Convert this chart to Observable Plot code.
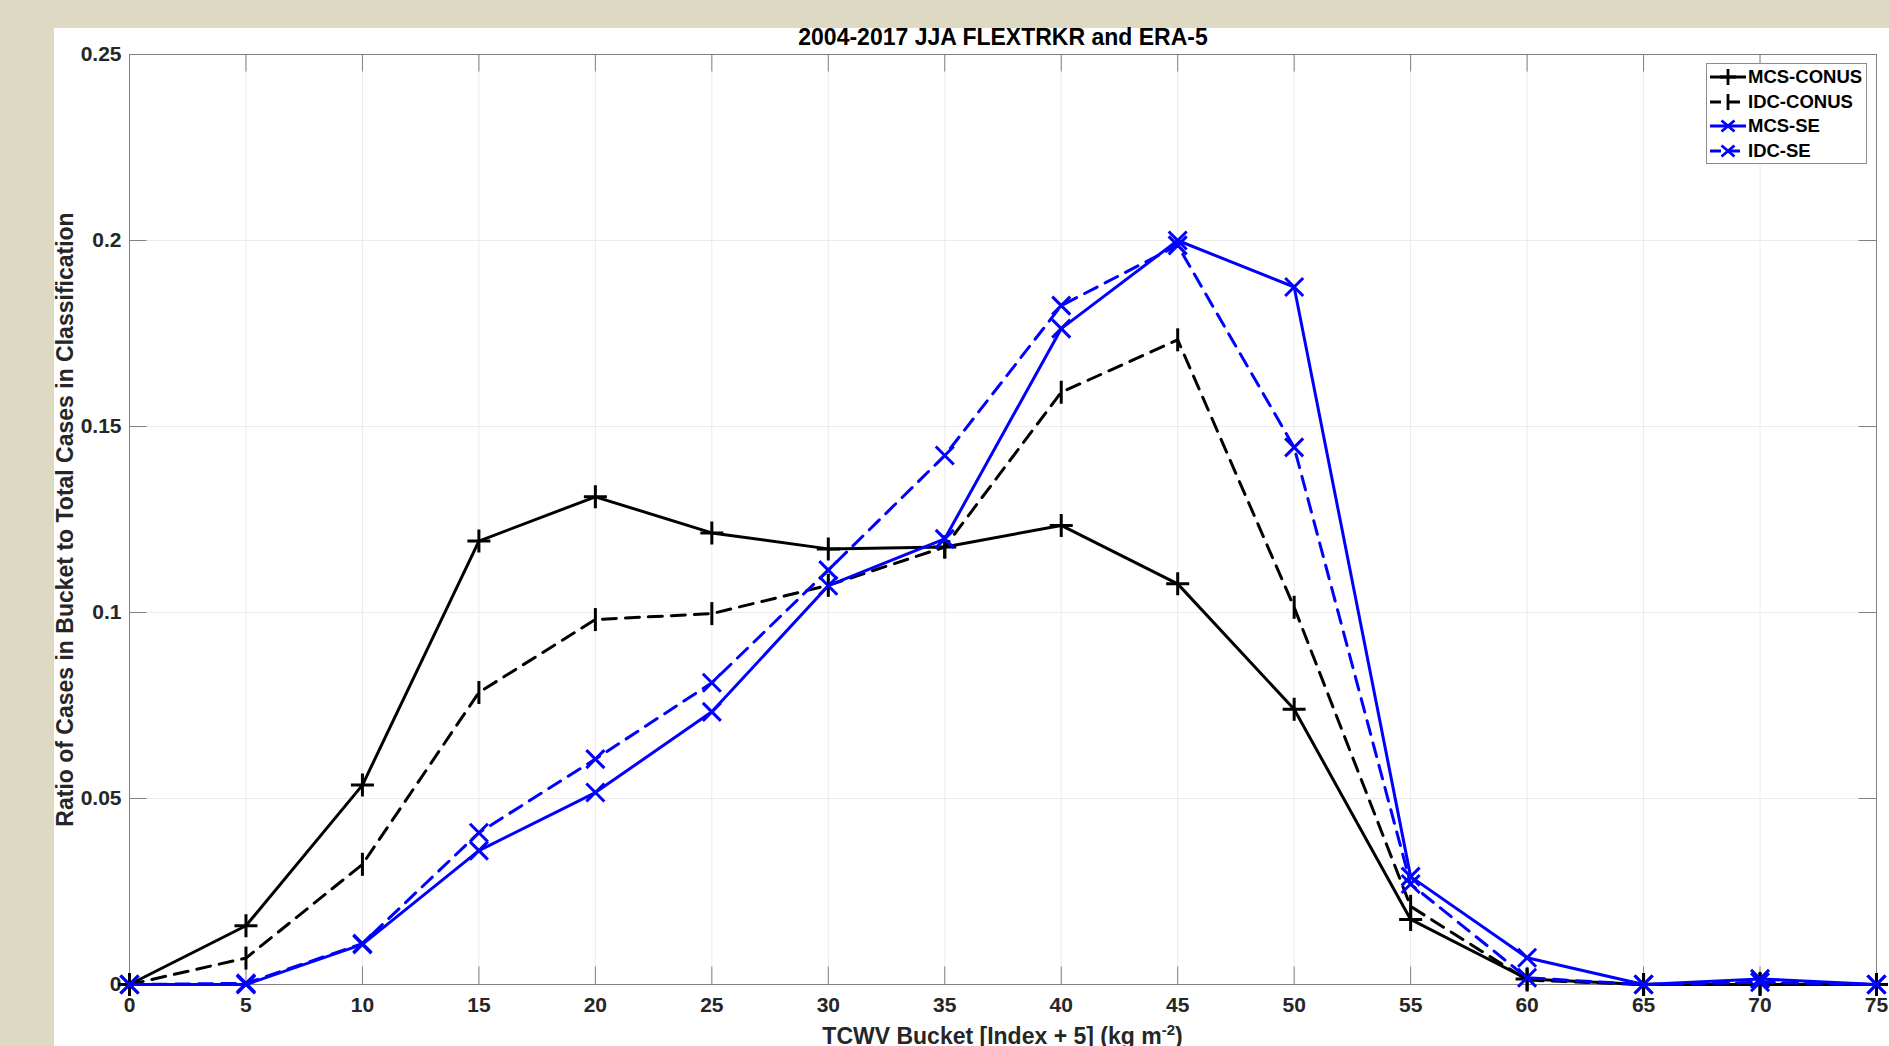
<!DOCTYPE html>
<html><head><meta charset="utf-8">
<script src="https://cdn.jsdelivr.net/npm/d3@7"></script>
<script src="https://cdn.jsdelivr.net/npm/@observablehq/plot@0.6"></script>
<style>
html,body{margin:0;padding:0}
body{width:1889px;height:1046px;overflow:hidden;position:relative;background:#DED9C3;font-family:"Liberation Sans",Arial,Helvetica,sans-serif}
#panel{position:absolute;left:54px;top:28px;right:0;bottom:0;background:#fff}
#chart{position:absolute;left:0;top:0}
#legend{position:absolute;left:1706px;top:63px;width:161px;height:101px;box-sizing:border-box;border:1px solid #8c8c8c;background:#fff;padding-top:1px}
.row{height:24.5px;display:flex;align-items:center;font-weight:bold;font-size:18.5px;color:#000;white-space:nowrap}
.row svg{flex:none}
</style></head><body>
<div id="panel"></div><div id="chart"></div><div id="legend"></div>
<script>
// ---- data ----
const buckets = [0, 5, 10, 15, 20, 25, 30, 35, 40, 45, 50, 55, 60, 65, 70, 75];
const seriesNames = ["MCS-CONUS", "IDC-CONUS", "MCS-SE", "IDC-SE"];
const mcsConus = [0, 0.0158, 0.0536, 0.1192, 0.1311, 0.1214, 0.1171, 0.1176, 0.1234, 0.1077, 0.0740, 0.0175, 0.0015, 0, 0, 0];
const idcConus = [0, 0.0071, 0.0323, 0.0785, 0.0981, 0.0997, 0.1073, 0.1176, 0.1592, 0.1733, 0.1014, 0.0210, 0.0012, 0, 0.0003, 0];
const mcsSe    = [0, 0, 0.0108, 0.0360, 0.0516, 0.0733, 0.1072, 0.1198, 0.1763, 0.2000, 0.1875, 0.0290, 0.0072, 0, 0.0015, 0];
const idcSe    = [0, 0.0003, 0.0110, 0.0408, 0.0606, 0.0811, 0.1114, 0.1422, 0.1825, 0.1987, 0.1444, 0.0270, 0.0018, 0, 0.0006, 0];
const xTicks = [0, 5, 10, 15, 20, 25, 30, 35, 40, 45, 50, 55, 60, 65, 70, 75];
const yTicks = [0, 0.05, 0.1, 0.15, 0.2, 0.25];
const titleText = "2004-2017 JJA FLEXTRKR and ERA-5";
const yLabelText = "Ratio of Cases in Bucket to Total Cases in Classification";
const xLabelMain = "TCWV Bucket [Index + 5] (kg m";
const xLabelSup = "-2";
const xLabelEnd = ")";
const seriesColor = ["#000000", "#000000", "#0000FF", "#0000FF"];
const seriesDash = [null, "14,9", null, "14,9"];
const seriesMarker = ["plus", "vbar", "times", "times"];

// ---- layout ----
const W = 1889, H = 1046, mL = 129, mR = 13, mT = 54, mB = 62;
const fw = W - mL - mR, fh = H - mT - mB;
const tickLen = 17.5;
const axisGray = "#808080";

const symbols = {
  plus: {draw(ctx, size) { const r = Math.sqrt(size / Math.PI); ctx.moveTo(-r, 0); ctx.lineTo(r, 0); ctx.moveTo(0, -r); ctx.lineTo(0, r); }},
  vbar: {draw(ctx, size) { const r = Math.sqrt(size / Math.PI); ctx.moveTo(0, -r); ctx.lineTo(0, r); }},
  times: {draw(ctx, size) { const r = Math.sqrt(size / Math.PI); ctx.moveTo(-r, -r); ctx.lineTo(r, r); ctx.moveTo(-r, r); ctx.lineTo(r, -r); }}
};
const markerR = {plus: 11.5, vbar: 11.5, times: 9};

const seriesVals = [mcsConus, idcConus, mcsSe, idcSe];
const data = seriesNames.map((n, i) => buckets.map((b, j) => ({series: n, x: b, y: seriesVals[i][j]})));

const seriesMarks = [];
data.forEach((d, i) => {
  const lineOpts = {x: "x", y: "y", stroke: seriesColor[i], strokeWidth: 3, strokeLinejoin: "round"};
  if (seriesDash[i]) lineOpts.strokeDasharray = seriesDash[i];
  seriesMarks.push(Plot.line(d, lineOpts));
  seriesMarks.push(Plot.dot(d, {x: "x", y: "y", symbol: symbols[seriesMarker[i]], r: markerR[seriesMarker[i]], stroke: seriesColor[i], strokeWidth: 3, fill: "none"}));
});

const chart = Plot.plot({
  width: W, height: H,
  marginLeft: mL, marginRight: mR, marginTop: mT, marginBottom: mB,
  style: {background: "transparent", fontFamily: "'Liberation Sans', Arial, Helvetica, sans-serif", fontSize: "21px", fontWeight: "bold", color: "#262626", overflow: "visible"},
  x: {domain: [0, 75], ticks: xTicks, tickSize: 0, tickPadding: 13, label: null, tickFormat: d => String(d)},
  y: {domain: [0, 0.25], ticks: yTicks, tickSize: 0, tickPadding: 8, label: null, tickFormat: d => String(d)},
  marks: [
    Plot.ruleX(xTicks, {x: d => d, stroke: "#ebebeb"}),
    Plot.ruleY(yTicks, {y: d => d, stroke: "#ebebeb"}),
    Plot.frame({stroke: axisGray, strokeWidth: 1}),
    Plot.tickX(xTicks, {x: d => d, insetTop: fh - tickLen, stroke: axisGray}),
    Plot.tickX(xTicks, {x: d => d, insetBottom: fh - tickLen, stroke: axisGray}),
    Plot.tickY(yTicks, {y: d => d, insetRight: fw - tickLen, stroke: axisGray}),
    Plot.tickY(yTicks, {y: d => d, insetLeft: fw - tickLen, stroke: axisGray}),
    ...seriesMarks,
    Plot.text([titleText], {text: d => d, frameAnchor: "top", lineAnchor: "middle", dy: -16.5, fontSize: 23, fontWeight: "bold", fill: "#000"}),
    Plot.text([yLabelText], {text: d => d, frameAnchor: "left", textAnchor: "middle", lineAnchor: "middle", dx: -64, rotate: -90, fontSize: 23, fontWeight: "bold", fill: "#262626"})
  ]
});
document.getElementById("chart").appendChild(chart);

// x-axis label with superscript
const svgEl = chart.tagName.toLowerCase() === "svg" ? chart : chart.querySelector("svg");
const xl = d3.select(svgEl).append("text")
  .attr("x", mL + fw / 2).attr("y", H - 2)
  .attr("text-anchor", "middle").attr("font-size", 23).attr("font-weight", "bold").attr("fill", "#262626");
xl.append("tspan").text(xLabelMain);
xl.append("tspan").attr("dy", -9).attr("font-size", 15).text(xLabelSup);
xl.append("tspan").attr("dy", 9).text(xLabelEnd);

// legend
const legend = document.getElementById("legend");
seriesNames.forEach((name, i) => {
  const row = document.createElement("div");
  row.className = "row";
  const ns = "http://www.w3.org/2000/svg";
  const s = document.createElementNS(ns, "svg");
  s.setAttribute("width", 41); s.setAttribute("height", 24);
  const ln = document.createElementNS(ns, "line");
  ln.setAttribute("x1", 3); ln.setAttribute("x2", 39); ln.setAttribute("y1", 12); ln.setAttribute("y2", 12);
  ln.setAttribute("stroke", seriesColor[i]); ln.setAttribute("stroke-width", 2.8);
  if (seriesDash[i]) ln.setAttribute("stroke-dasharray", "11,8");
  s.appendChild(ln);
  const mk = document.createElementNS(ns, "path");
  const m = seriesMarker[i];
  mk.setAttribute("d", m === "plus" ? "M21,4V20M13,12H29" : m === "vbar" ? "M21,4V20" : "M14.5,6.5L27.5,17.5M14.5,17.5L27.5,6.5");
  mk.setAttribute("stroke", seriesColor[i]); mk.setAttribute("stroke-width", 2.8); mk.setAttribute("fill", "none");
  s.appendChild(mk);
  row.appendChild(s);
  const t = document.createElement("span");
  t.textContent = name;
  row.appendChild(t);
  legend.appendChild(row);
});
</script>
</body></html>
